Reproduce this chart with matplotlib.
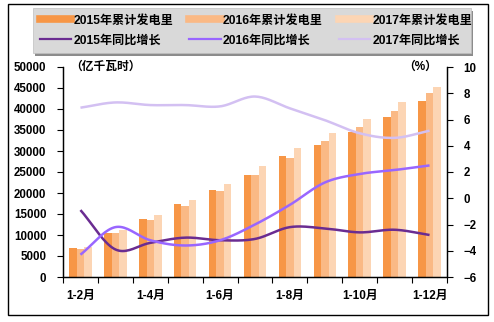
import numpy as np
import matplotlib
matplotlib.use("Agg")
import matplotlib.pyplot as plt
from matplotlib.lines import Line2D
from matplotlib.patches import Rectangle

plt.rcParams['font.family'] = ['Liberation Sans', 'Noto Sans CJK SC']

months = ['1-2月', '1-3月', '1-4月', '1-5月', '1-6月', '1-7月', '1-8月', '1-9月', '1-10月', '1-11月', '1-12月']
gen_2015 = [6900, 10400, 13800, 17400, 20700, 24300, 28800, 31500, 34600, 38000, 42000]
gen_2016 = [6700, 10400, 13600, 17000, 20500, 24300, 28400, 32300, 35700, 39600, 43800]
gen_2017 = [7200, 11200, 14800, 18400, 22100, 26400, 30800, 34400, 37700, 41600, 45300]
yoy_2015 = [-0.9, -3.9, -3.4, -3.0, -3.2, -3.1, -2.2, -2.3, -2.6, -2.4, -2.8]
yoy_2016 = [-4.3, -2.2, -3.2, -3.6, -3.2, -2.0, -0.5, 1.2, 1.85, 2.15, 2.5]
yoy_2017 = [6.9, 7.3, 7.1, 7.1, 7.0, 7.75, 6.85, 5.95, 4.95, 4.6, 5.15]

bar_colors = ['#F79646', '#FAB985', '#FCD5B4']
line_colors = ['#6A2C91', '#9966FF', '#D3C0F2']


def smooth(x, y, n=20):
    # Catmull-Rom style smoothing (like Excel smoothed lines)
    x = np.asarray(x, float); y = np.asarray(y, float)
    px = np.concatenate([[2 * x[0] - x[1]], x, [2 * x[-1] - x[-2]]])
    py = np.concatenate([[2 * y[0] - y[1]], y, [2 * y[-1] - y[-2]]])
    xs, ys = [], []
    t = np.linspace(0, 1, n, endpoint=False)
    for i in range(1, len(px) - 2):
        p0, p1, p2, p3 = [np.array([px[j], py[j]]) for j in (i - 1, i, i + 1, i + 2)]
        c1 = p1 + (p2 - p0) / 6
        c2 = p2 - (p3 - p1) / 6
        pts = ((1 - t) ** 3)[:, None] * p1 + (3 * (1 - t) ** 2 * t)[:, None] * c1 \
            + (3 * (1 - t) * t ** 2)[:, None] * c2 + (t ** 3)[:, None] * p2
        xs.extend(pts[:, 0]); ys.extend(pts[:, 1])
    xs.append(x[-1]); ys.append(y[-1])
    return np.array(xs), np.array(ys)


fig = plt.figure(figsize=(4.94, 3.22), dpi=100)
ax = fig.add_axes([63 / 494, 45 / 322, 384 / 494, 210 / 322])
ax2 = ax.twinx()

x = np.arange(len(months))
w = 0.215
ax.bar(x - w, gen_2015, w, color=bar_colors[0], zorder=2)
ax.bar(x, gen_2016, w, color=bar_colors[1], zorder=2)
ax.bar(x + w, gen_2017, w, color=bar_colors[2], zorder=2)

for vals, c in zip([yoy_2015, yoy_2016, yoy_2017], line_colors):
    sx, sy = smooth(x, vals)
    ax2.plot(sx, sy, color=c, lw=1.8, solid_capstyle='butt')

ax.set_xlim(-0.5, len(months) - 0.5)
ax.set_ylim(0, 50000)
ax.set_yticks(np.arange(0, 50001, 5000))
ax2.set_ylim(-6, 10)
ax2.set_yticks(np.arange(-6, 11, 2))

ax.set_xticks(np.arange(-0.5, len(months), 1), minor=False)
ax.set_xticklabels([])
ax.set_xticks(x[::2], minor=True)
ax.set_xticklabels([months[i] for i in x[::2]], minor=True)
ax.tick_params(axis='x', which='major', length=4, direction='out', width=0.8)
ax.tick_params(axis='x', which='minor', length=0, pad=9)
for lab in ax.get_xticklabels(minor=True):
    lab.set_fontweight('bold'); lab.set_fontsize(8.5)

ax.tick_params(axis='y', length=4, width=0.8, labelsize=8.3, pad=8)
ax2.tick_params(axis='y', length=4, width=0.8, labelsize=8.3, pad=8)
for lab in ax.get_yticklabels() + ax2.get_yticklabels():
    lab.set_fontweight('bold')

for a in (ax, ax2):
    a.spines['top'].set_visible(False)
    for s in ('left', 'right', 'bottom'):
        a.spines[s].set_linewidth(0.9)

ax.text(0.02, 1.0, '（亿千瓦时）', transform=ax.transAxes, fontsize=8.5,
        fontweight='bold', ha='left', va='center')
ax.text(0.975, 1.0, '（%）', transform=ax.transAxes, fontsize=8.5,
        fontweight='bold', ha='right', va='center')

handles = [
    Line2D([], [], color=bar_colors[0], lw=5.5), Line2D([], [], color=line_colors[0], lw=1.6),
    Line2D([], [], color=bar_colors[1], lw=5.5), Line2D([], [], color=line_colors[1], lw=1.6),
    Line2D([], [], color=bar_colors[2], lw=5.5), Line2D([], [], color=line_colors[2], lw=1.6),
]
labels = ['2015年累计发电里', '2015年同比增长', '2016年累计发电里', '2016年同比增长',
          '2017年累计发电里', '2017年同比增长']

# legend box with shadow
lx0, ly0, lw_, lh_ = 33 / 494, (322 - 53) / 322, 438 / 494, 45 / 322
fig.patches.append(Rectangle((lx0 + 2 / 494, ly0 - 3 / 322), lw_, lh_, transform=fig.transFigure,
                             facecolor='#8C8C8C', edgecolor='none', zorder=0))
fig.patches.append(Rectangle((lx0, ly0), lw_, lh_, transform=fig.transFigure,
                             facecolor='#D9D9D9', edgecolor='#BFBFBF', lw=0.5, zorder=1))
leg = fig.legend(handles, labels, ncol=3, loc='center', bbox_to_anchor=(lx0 + lw_ / 2 + 4 / 494, ly0 + lh_ / 2),
                 frameon=False, handlelength=2.6, columnspacing=1.3, handletextpad=0.2,
                 labelspacing=0.65, prop={'size': 8.7, 'weight': 'bold'})

fig.patches.append(Rectangle((8 / 494, 7 / 322), 480 / 494, 311 / 322, transform=fig.transFigure,
                             facecolor='none', edgecolor='black', lw=1.0, zorder=5))

fig.savefig('out.png', dpi=100)
